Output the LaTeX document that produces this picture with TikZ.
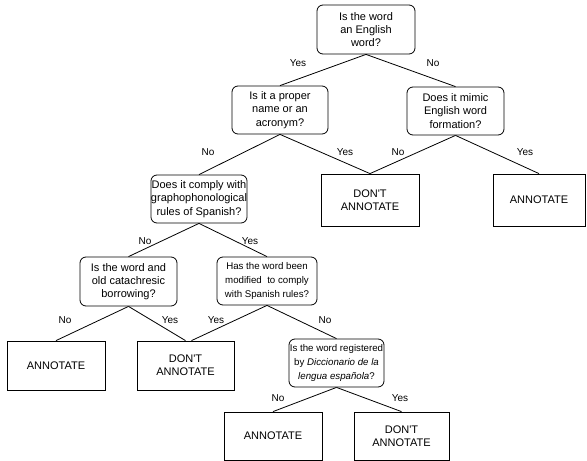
\documentclass[tikz,border=0pt]{standalone}
\usepackage{fontspec}
\setmainfont{Liberation Sans}
\begin{document}
\begin{tikzpicture}[x=1pt,y=-1pt,
  question/.style={draw, rounded corners=6pt, line width=0.8pt, align=center, inner sep=0pt,
    font=\fontsize{11}{13.3}\selectfont},
  smallq/.style={question, font=\fontsize{9.7}{14.2}\selectfont},
  answer/.style={draw, line width=0.8pt, align=center, inner sep=0pt,
    font=\fontsize{11}{13.3}\selectfont},
  branch/.style={line width=0.8pt},
  lbl/.style={inner sep=0pt, font=\fontsize{10}{12}\selectfont}]
\useasboundingbox (0,0) rectangle (587,461);

% decision nodes
\node[question, minimum width=98pt, minimum height=49pt] (q1) at (366,29.5) {Is the word\\an English\\word?};
\node[question, minimum width=96pt, minimum height=48pt] (q2) at (280,110) {Is it a proper\\name or an\\acronym?};
\node[question, minimum width=97pt, minimum height=48pt] (q3) at (455.5,111) {Does it mimic\\English word\\formation?};
\node[question, minimum width=96pt, minimum height=48pt] (q4) at (199,199) {Does it comply with\\graphophonological\\rules of Spanish?};
\node[question, minimum width=97pt, minimum height=49pt] (q5) at (128.5,281.5) {Is the word and\\old catachresic\\borrowing?};
\node[smallq, minimum width=100pt, minimum height=48pt] (q6) at (267,281) {Has the word been\\modified\ \ to comply\\with Spanish rules?};
\node[smallq, minimum width=95pt, minimum height=48pt] (q7) at (336.5,363) {Is the word registered\\by \textit{Diccionario de la}\\\textit{lengua española}?};

% outcomes
\node[answer, minimum width=98pt, minimum height=52pt] (d1) at (370,200) {DON\textquotesingle T\\ANNOTATE};
\node[answer, minimum width=92pt, minimum height=52pt] (a1) at (539,200) {ANNOTATE};
\node[answer, minimum width=98pt, minimum height=49pt] (a2) at (56,365.5) {ANNOTATE};
\node[answer, minimum width=97pt, minimum height=49pt] (d2) at (185.5,365.5) {DON\textquotesingle T\\ANNOTATE};
\node[answer, minimum width=98pt, minimum height=48pt] (a3) at (273,436) {ANNOTATE};
\node[answer, minimum width=95pt, minimum height=48pt] (d3) at (401.5,436) {DON\textquotesingle T\\ANNOTATE};

% branches
\draw[branch] (q1.south) -- (q2.north);
\draw[branch] (q1.south) -- (q3.north);
\draw[branch] (q2.south) -- (q4.north);
\draw[branch] (q2.south) -- (d1.north);
\draw[branch] (q3.south) -- (d1.north);
\draw[branch] (q3.south) -- (a1.north);
\draw[branch] (q4.south) -- (q5.north);
\draw[branch] (q4.south) -- (q6.north);
\draw[branch] (q5.south) -- (a2.north);
\draw[branch] (q5.south) -- (d2.north);
\draw[branch] (q6.south) -- ([xshift=6pt]d2.north);
\draw[branch] (q6.south) -- (q7.north);
\draw[branch] (q7.south) -- (a3.north);
\draw[branch] (q7.south) -- (d3.north);

% branch labels
\node[lbl] (l1) at (298,63) {Yes};
\node[lbl] (l2) at (433,63) {No};
\node[lbl] (l3) at (208,152) {No};
\node[lbl] (l4) at (345,152) {Yes};
\node[lbl] (l5) at (398,152) {No};
\node[lbl] (l6) at (525,152) {Yes};
\node[lbl] (l7) at (145,241) {No};
\node[lbl] (l8) at (250,241) {Yes};
\node[lbl] (l9) at (65,320) {No};
\node[lbl] (l10) at (170,320) {Yes};
\node[lbl] (l11) at (216,320) {Yes};
\node[lbl] (l12) at (325,320) {No};
\node[lbl] (l13) at (278,398) {No};
\node[lbl] (l14) at (400,398) {Yes};
\end{tikzpicture}
\end{document}
